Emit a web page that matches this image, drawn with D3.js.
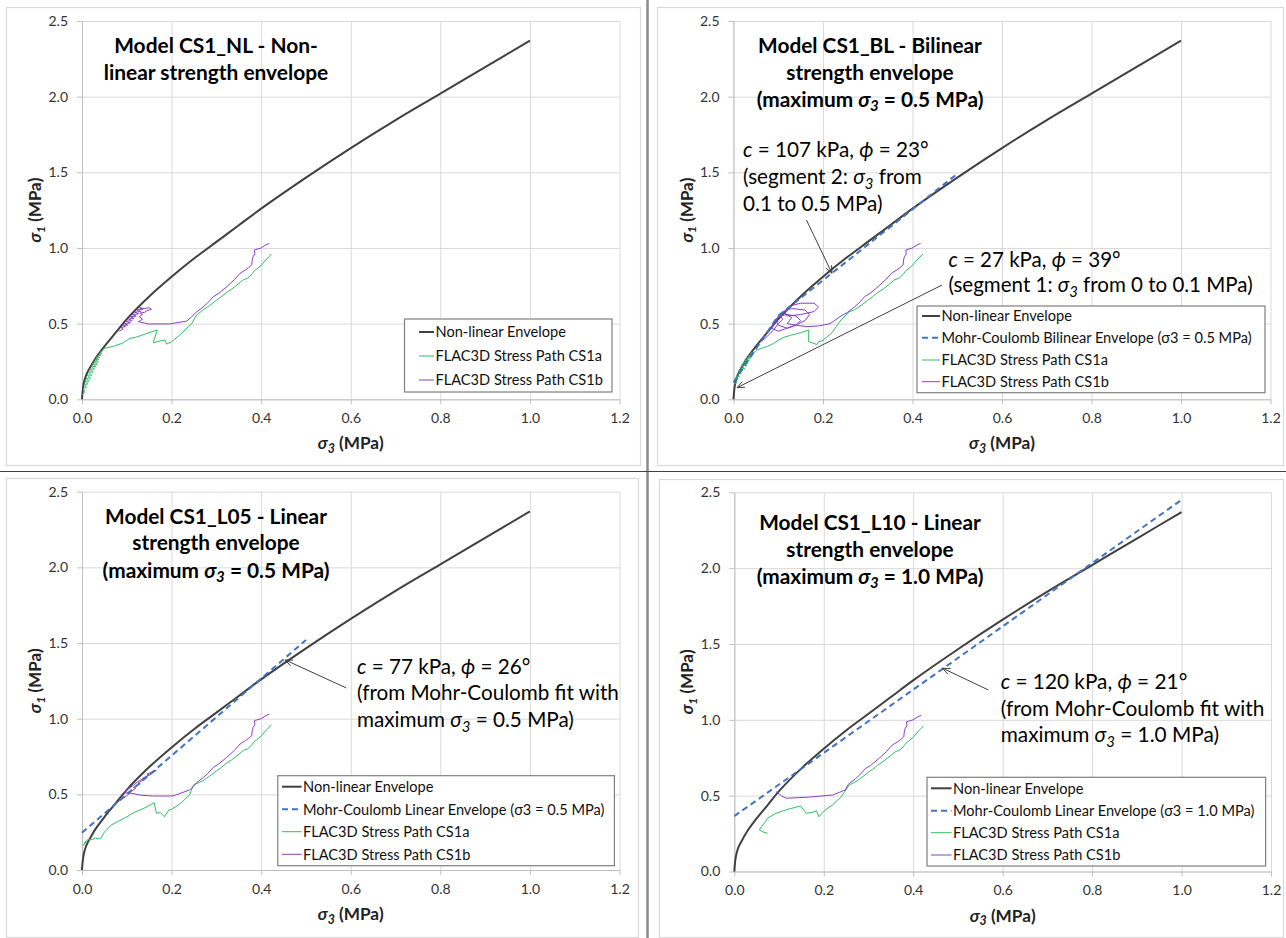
<!DOCTYPE html>
<html><head><meta charset="utf-8">
<script src="https://cdn.jsdelivr.net/npm/d3@7"></script>
<style>
body{margin:0;background:#fff}
svg{display:block}
text{font-family:Lato,"Open Sans","DejaVu Sans",sans-serif}
</style>
</head><body>
<svg id="c" width="1286" height="938"></svg>
<script>
// ---------------- DATA ----------------
const xTicks = [0, 0.2, 0.4, 0.6, 0.8, 1.0, 1.2];
const yTicks = [0, 0.5, 1.0, 1.5, 2.0, 2.5];

// Non-linear (curved) strength envelope, sigma3 vs sigma1 (MPa)
const envS3 = [0, 0.001, 0.003, 0.006, 0.01, 0.02, 0.03, 0.05, 0.075, 0.1, 0.15, 0.2, 0.25, 0.3, 0.35, 0.4, 0.5, 0.6, 0.7, 0.8, 0.9, 1.0];
const envS1 = [0, 0.04, 0.09, 0.13, 0.165, 0.22, 0.27, 0.35, 0.44, 0.53, 0.68, 0.81, 0.93, 1.04, 1.15, 1.26, 1.465, 1.66, 1.845, 2.02, 2.195, 2.37];

// Mohr-Coulomb envelopes
const mcBilinS3 = [0, 0.1, 0.5];
const mcBilinS1 = [0.113, 0.552, 1.49];
const mcL05S3 = [0, 0.5];
const mcL05S1 = [0.246, 1.52];
const mcL10S3 = [0, 1.0];
const mcL10S1 = [0.365, 2.45];

// common upper parts of the FLAC3D stress paths
const tailGreen = [[0.27,0.59],[0.285,0.62],[0.3,0.655],[0.31,0.675],[0.32,0.70],[0.335,0.73],[0.35,0.765],[0.36,0.79],[0.37,0.80],[0.38,0.83],[0.385,0.85],[0.39,0.86],[0.40,0.885],[0.41,0.92],[0.423,0.96]];
const tailPurple = [[0.255,0.575],[0.271,0.612],[0.28,0.635],[0.293,0.678],[0.305,0.70],[0.323,0.744],[0.34,0.79],[0.353,0.833],[0.365,0.855],[0.372,0.87],[0.379,0.888],[0.38,0.92],[0.382,0.943],[0.386,0.96],[0.385,0.987],[0.40,1.0],[0.41,1.02],[0.418,1.03]];

// Model CS1_NL
const greenNL = [[0.001,0.03],[0.006,0.05],[0.003,0.07],[0.01,0.08],[0.005,0.1],[0.013,0.1],[0.007,0.12],[0.016,0.12],[0.009,0.14],[0.019,0.14],[0.011,0.16],[0.022,0.16],[0.014,0.18],[0.025,0.18],[0.017,0.2],[0.028,0.2],[0.02,0.22],[0.031,0.215],[0.023,0.235],[0.034,0.23],[0.026,0.25],[0.036,0.245],[0.029,0.265],[0.038,0.26],[0.032,0.28],[0.04,0.275],[0.035,0.29],[0.042,0.29],[0.038,0.305],[0.044,0.3],[0.041,0.315],[0.046,0.32],[0.048,0.335],[0.07,0.35],[0.09,0.37],[0.107,0.403],[0.12,0.41],[0.14,0.43],[0.168,0.458],[0.159,0.374],[0.175,0.385],[0.185,0.392],[0.189,0.365],[0.2,0.38],[0.22,0.43],[0.245,0.50],[0.256,0.557]];
const purpleNL = [[0.083,0.45],[0.092,0.465],[0.087,0.475],[0.097,0.48],[0.091,0.49],[0.102,0.49],[0.095,0.5],[0.108,0.505],[0.099,0.515],[0.112,0.52],[0.104,0.53],[0.116,0.535],[0.108,0.545],[0.121,0.55],[0.113,0.56],[0.126,0.565],[0.118,0.575],[0.131,0.58],[0.123,0.59],[0.136,0.595],[0.128,0.605],[0.14,0.6],[0.15,0.605],[0.155,0.595],[0.145,0.585],[0.14,0.575],[0.13,0.57],[0.135,0.56],[0.128,0.545],[0.135,0.53],[0.13,0.52],[0.126,0.513],[0.148,0.498],[0.196,0.498],[0.234,0.517],[0.245,0.546]];

// Model CS1_BL
const greenBL = [[0.002,0.1],[0.007,0.11],[0.004,0.13],[0.01,0.13],[0.006,0.15],[0.013,0.15],[0.009,0.17],[0.017,0.17],[0.012,0.19],[0.021,0.19],[0.015,0.21],[0.025,0.2],[0.018,0.23],[0.029,0.22],[0.021,0.245],[0.032,0.24],[0.025,0.26],[0.035,0.255],[0.029,0.275],[0.038,0.27],[0.033,0.29],[0.042,0.29],[0.038,0.305],[0.046,0.31],[0.052,0.326],[0.076,0.35],[0.09,0.37],[0.1,0.39],[0.113,0.41],[0.13,0.425],[0.15,0.44],[0.168,0.458],[0.168,0.38],[0.18,0.37],[0.186,0.36],[0.19,0.38],[0.2,0.39],[0.22,0.44],[0.24,0.524],[0.259,0.579]];
const purpleBL = [[0.06,0.38],[0.07,0.40],[0.08,0.43],[0.09,0.46],[0.1,0.5],[0.11,0.53],[0.105,0.55],[0.095,0.53],[0.1,0.49],[0.12,0.47],[0.14,0.49],[0.15,0.52],[0.14,0.55],[0.12,0.56],[0.1,0.55],[0.09,0.5],[0.085,0.47],[0.1,0.45],[0.13,0.48],[0.16,0.52],[0.17,0.56],[0.16,0.59],[0.13,0.6],[0.11,0.58],[0.12,0.55],[0.15,0.56],[0.18,0.58],[0.19,0.61],[0.18,0.635],[0.15,0.635],[0.13,0.62],[0.12,0.6],[0.115,0.57],[0.13,0.54],[0.125,0.52],[0.12,0.5],[0.14,0.49],[0.164,0.48],[0.19,0.485],[0.216,0.50],[0.238,0.546]];

// Model CS1_L05
const greenL05 = [[0.003,0.16],[0.008,0.19],[0.005,0.17],[0.012,0.2],[0.02,0.2],[0.03,0.21],[0.04,0.205],[0.042,0.21],[0.05,0.25],[0.065,0.297],[0.08,0.32],[0.093,0.341],[0.1,0.35],[0.11,0.37],[0.12,0.385],[0.14,0.41],[0.161,0.445],[0.166,0.375],[0.175,0.38],[0.184,0.352],[0.194,0.397],[0.2,0.4],[0.22,0.44],[0.24,0.496],[0.249,0.562]];
const purpleL05 = [[0.075,0.44],[0.085,0.46],[0.09,0.47],[0.1,0.49],[0.11,0.52],[0.12,0.54],[0.115,0.545],[0.13,0.57],[0.125,0.575],[0.14,0.6],[0.135,0.605],[0.15,0.63],[0.145,0.635],[0.16,0.65],[0.166,0.66],[0.155,0.635],[0.14,0.61],[0.125,0.585],[0.115,0.56],[0.1,0.53],[0.095,0.51],[0.111,0.507],[0.13,0.495],[0.157,0.489],[0.203,0.489],[0.24,0.529],[0.248,0.55]];

// Model CS1_L10
const greenL10 = [[0.0745,0.252],[0.065,0.26],[0.056,0.274],[0.061,0.296],[0.07,0.33],[0.074,0.351],[0.093,0.384],[0.12,0.41],[0.148,0.432],[0.161,0.384],[0.175,0.39],[0.184,0.40],[0.189,0.361],[0.203,0.405],[0.22,0.44],[0.239,0.493],[0.257,0.57]];
const purpleL10 = [[0.093,0.527],[0.105,0.5],[0.116,0.483],[0.166,0.49],[0.221,0.505],[0.248,0.538]];

// ---------------- STYLE / LAYOUT ----------------
const C = {env:"#404040", mc:"#4472c4", green:"#2fbf64", purple:"#8a3fc7", grid:"#d9d9d9", axis:"#bfbfbf", frame:"#d9d9d9", tick:"#333333"};
const LEG = {
  env:{label:[{t:"Non-linear Envelope"}], color:C.env, w:2},
  mcBL:{label:[{t:"Mohr-Coulomb Bilinear Envelope (σ3 = 0.5 MPa)"}], color:C.mc, w:2, dash:"6,4"},
  mc05:{label:[{t:"Mohr-Coulomb Linear Envelope (σ3 = 0.5 MPa)"}], color:C.mc, w:2, dash:"6,4"},
  mc10:{label:[{t:"Mohr-Coulomb Linear Envelope (σ3 = 1.0 MPa)"}], color:C.mc, w:2, dash:"6,4"},
  green:{label:[{t:"FLAC3D Stress Path CS1a"}], color:C.green, w:1},
  purple:{label:[{t:"FLAC3D Stress Path CS1b"}], color:C.purple, w:1}
};
const S = (t)=>[{t:"σ",i:1},{t:t,i:1,sub:1}];

const panels = [
 {frame:[6,7,640,465], plot:[82,619.5,21,399.3],
  title:{cx:216, ys:[45.7,72], fitLine:1, fitW:224.7, lines:[[{t:"Model CS1_NL - Non-"}],[{t:"linear strength envelope"}]]},
  mc:null, green:greenNL, purple:purpleNL,
  legend:{box:[404.5,319,612,392], rows:[332,356,380], sx:[419,434], tx:435.5, items:["env","green","purple"]},
  annos:[]},
 {frame:[657,7,1283,465], plot:[733.5,1270.5,21,399.3],
  title:{cx:870, ys:[45.7,72,99.3], fitLine:2, fitW:226.9, lines:[[{t:"Model CS1_BL - Bilinear"}],[{t:"strength envelope"}],[{t:"(maximum "},...S("3"),{t:" = 0.5 MPa)"}]]},
  mc:[mcBilinS3,mcBilinS1], green:greenBL, purple:purpleBL,
  legend:{box:[917,306,1265,392.7], rows:[316,337.7,360,381.7], sx:[922,940], tx:941.5, items:["env","mcBL","green","purple"]},
  annos:[
   {x:743, ys:[150,176.7,203.3], fitLine:1, fitW:179, lines:[[{t:"c",i:1},{t:" = 107 kPa, "},{t:"ϕ",i:1},{t:" = 23°"}],[{t:"(segment 2: "},...S("3"),{t:" from"}],[{t:"0.1 to 0.5 MPa)"}]], arrow:[[0.163,1.185],[0.22,0.833]]},
   {x:948.4, ys:[259.3,285], fitLine:1, fitW:304.6, lines:[[{t:"c",i:1},{t:" = 27 kPa, "},{t:"ϕ",i:1},{t:" = 39°"}],[{t:"(segment 1: "},...S("3"),{t:" from 0 to 0.1 MPa)"}]], arrow:[[0.466,0.755],[0.008,0.077]]}
  ]},
 {frame:[6,478,638,937], plot:[82,619.5,491.7,870],
  title:{cx:216, ys:[516.7,542.7,570], fitLine:2, fitW:227, lines:[[{t:"Model CS1_L05 - Linear"}],[{t:"strength envelope"}],[{t:"(maximum "},...S("3"),{t:" = 0.5 MPa)"}]]},
  mc:[mcL05S3,mcL05S1], green:greenL05, purple:purpleL05,
  legend:{box:[277.8,775.7,614.4,865.7], rows:[786.7,809.3,831.7,854.3], sx:[282,301.6], tx:303, items:["env","mc05","green","purple"]},
  annos:[
   {x:357, ys:[666.7,692.7,720], fitLine:1, fitW:262, lines:[[{t:"c",i:1},{t:" = 77 kPa, "},{t:"ϕ",i:1},{t:" = 26°"}],[{t:"(from Mohr-Coulomb fit with"}],[{t:"maximum "},...S("3"),{t:" = 0.5 MPa)"}]], arrow:[[0.59,1.203],[0.4536,1.388]]}
  ]},
 {frame:[659,479,1283,937], plot:[734.3,1271,492.3,871.5],
  title:{cx:870, ys:[522.3,549.3,576], fitLine:2, fitW:226.9, lines:[[{t:"Model CS1_L10 - Linear"}],[{t:"strength envelope"}],[{t:"(maximum "},...S("3"),{t:" = 1.0 MPa)"}]]},
  mc:[mcL10S3,mcL10S1], green:greenL10, purple:purpleL10,
  legend:{box:[927,777.3,1265.6,866], rows:[788.3,810.7,832.7,855], sx:[931,951.6], tx:953, items:["env","mc10","green","purple"]},
  annos:[
   {x:1000.7, ys:[681.7,708.3,735], fitLine:1, fitW:263.7, lines:[[{t:"c",i:1},{t:" = 120 kPa, "},{t:"ϕ",i:1},{t:" = 21°"}],[{t:"(from Mohr-Coulomb fit with"}],[{t:"maximum "},...S("3"),{t:" = 1.0 MPa)"}]], arrow:[[0.568,1.197],[0.4657,1.34]]}
  ]}
];

// ---------------- HELPERS ----------------
const svg = d3.select("#c");
function rich(textSel, parts){
  let prevSub = false;
  parts.forEach(p=>{
    const ts = textSel.append("tspan").text(p.t);
    if (p.i) ts.style("font-style","italic");
    if (p.sub){ ts.style("font-size","0.72em").attr("dy","0.3em"); prevSub = true; }
    else if (prevSub){ ts.attr("dy","-0.216em"); prevSub = false; }
  });
  return textSel;
}
// scale font size so that one reference line has the measured width
function fitGroup(texts, idx, target){
  const w = texts[idx].node().getBBox().width;
  const fs = parseFloat(texts[idx].attr("font-size"));
  const nf = fs*target/w;
  texts.forEach(t=>t.attr("font-size", nf));
  return nf;
}
function place(texts, ys, fs){ texts.forEach((t,i)=>t.attr("y", ys[i] + 0.36*fs)); }

const LEGFS = 14.6;

// ---------------- DRAW ----------------
svg.append("line").attr("x1",647.5).attr("x2",647.5).attr("y1",0).attr("y2",938).attr("stroke","#8c8c8c").attr("stroke-width",2.5);
svg.append("line").attr("x1",0).attr("x2",1286).attr("y1",471.5).attr("y2",471.5).attr("stroke","#404040").attr("stroke-width",1);

panels.forEach(P=>{
  const g = svg.append("g");
  const [fx0,fy0,fx1,fy1] = P.frame;
  g.append("rect").attr("x",fx0+0.5).attr("y",fy0+0.5).attr("width",fx1-fx0).attr("height",fy1-fy0)
    .attr("fill","#fff").attr("stroke",C.frame).attr("stroke-width",1.2);
  const [px0,px1,pyT,pyB] = P.plot;
  const x = d3.scaleLinear().domain([0,1.2]).range([px0,px1]);
  const y = d3.scaleLinear().domain([0,2.5]).range([pyB,pyT]);

  // gridlines
  g.append("g").attr("transform",`translate(0,${pyB})`)
    .call(d3.axisBottom(x).tickValues(xTicks).tickSize(-(pyB-pyT)).tickFormat(""))
    .call(s=>{s.select(".domain").remove(); s.selectAll("line").attr("stroke",C.grid);});
  g.append("g").attr("transform",`translate(${px0},0)`)
    .call(d3.axisLeft(y).tickValues(yTicks).tickSize(-(px1-px0)).tickFormat(""))
    .call(s=>{s.select(".domain").remove(); s.selectAll("line").attr("stroke",C.grid);});

  // axes
  const ax = g.append("g").attr("transform",`translate(0,${pyB})`)
    .call(d3.axisBottom(x).tickValues(xTicks).tickSizeInner(5).tickSizeOuter(0).tickPadding(9).tickFormat(d3.format(".1f")));
  const ay = g.append("g").attr("transform",`translate(${px0},0)`)
    .call(d3.axisLeft(y).tickValues(yTicks).tickSizeInner(5).tickSizeOuter(0).tickPadding(9).tickFormat(d3.format(".1f")));
  [ax,ay].forEach(a=>{
    a.select(".domain").attr("stroke",C.axis);
    a.selectAll(".tick line").attr("stroke",C.axis);
    a.selectAll("text").attr("fill",C.tick).attr("font-size",14).attr("font-family","Lato, 'Open Sans', sans-serif");
  });

  // axis titles
  const xt = rich(g.append("text").attr("x",(px0+px1)/2).attr("text-anchor","middle").attr("font-weight","bold").attr("font-size",15).attr("fill","#222"), [...S("3"),{t:" (MPa)"}]);
  const fsx = fitGroup([xt],0,66); xt.attr("y", pyB+44 + 0.36*fsx);
  const yt = rich(g.append("text").attr("text-anchor","middle").attr("font-weight","bold").attr("font-size",15).attr("fill","#222"), [...S("1"),{t:" (MPa)"}]);
  const fsy = fitGroup([yt],0,65);
  yt.attr("transform",`translate(${px0-47+0.36*fsy},${(pyT+pyB)/2}) rotate(-90)`);

  // envelope
  const line = d3.line().x(d=>x(d[0])).y(d=>y(d[1]));
  const env = envS3.map((v,i)=>[v,envS1[i]]);
  g.append("path").attr("d",d3.line().curve(d3.curveCatmullRom.alpha(0.5)).x(d=>x(d[0])).y(d=>y(d[1]))(env))
    .attr("fill","none").attr("stroke",C.env).attr("stroke-width",2);
  // stress paths
  g.append("path").attr("d",line(P.green.concat(tailGreen.filter(d=>d[0]>P.green[P.green.length-1][0]))))
    .attr("fill","none").attr("stroke",C.green).attr("stroke-width",1).attr("stroke-linejoin","round");
  g.append("path").attr("d",line(P.purple.concat(tailPurple.filter(d=>d[0]>P.purple[P.purple.length-1][0]))))
    .attr("fill","none").attr("stroke",C.purple).attr("stroke-width",1).attr("stroke-linejoin","round");
  // Mohr-Coulomb
  if (P.mc){
    const mc = P.mc[0].map((v,i)=>[v,P.mc[1][i]]);
    g.append("path").attr("d",line(mc)).attr("fill","none").attr("stroke",C.mc).attr("stroke-width",2).attr("stroke-dasharray","6,4");
  }

  // title
  const tl = P.title.lines.map(parts=>rich(g.append("text").attr("x",P.title.cx).attr("text-anchor","middle").attr("font-weight","bold").attr("font-size",19).attr("fill","#000"), parts));
  const tfs = fitGroup(tl, P.title.fitLine, P.title.fitW);
  place(tl, P.title.ys, tfs);

  // annotations
  P.annos.forEach(A=>{
    const al = A.lines.map(parts=>rich(g.append("text").attr("x",A.x).attr("font-size",18.5).attr("fill","#000"), parts));
    const afs = fitGroup(al, A.fitLine, A.fitW);
    place(al, A.ys, afs);
    const [t0,t1] = A.arrow;
    const x0=x(t0[0]), y0=y(t0[1]), x1=x(t1[0]), y1=y(t1[1]);
    g.append("line").attr("x1",x0).attr("y1",y0).attr("x2",x1).attr("y2",y1).attr("stroke","#404040").attr("stroke-width",1);
    const ang = Math.atan2(y0-y1, x0-x1), L=8, sp=0.4;
    g.append("path").attr("d",`M${x1+L*Math.cos(ang+sp)},${y1+L*Math.sin(ang+sp)}L${x1},${y1}L${x1+L*Math.cos(ang-sp)},${y1+L*Math.sin(ang-sp)}`)
      .attr("fill","none").attr("stroke","#404040").attr("stroke-width",1);
  });

  // legend
  const Lg = P.legend, [bx0,by0,bx1,by1] = Lg.box;
  g.append("rect").attr("x",bx0).attr("y",by0).attr("width",bx1-bx0).attr("height",by1-by0).attr("fill","#fff").attr("stroke","#7f7f7f").attr("stroke-width",1.2);
  Lg.items.forEach((k,i)=>{
    const it = LEG[k], yy = Lg.rows[i];
    g.append("line").attr("x1",Lg.sx[0]).attr("x2",Lg.sx[1]).attr("y1",yy).attr("y2",yy).attr("stroke",it.color).attr("stroke-width",it.w).attr("stroke-dasharray",it.dash||null);
    rich(g.append("text").attr("x",Lg.tx).attr("y",yy+0.36*LEGFS).attr("font-size",LEGFS).attr("fill","#111"), it.label);
  });
});
</script>
</body></html>
